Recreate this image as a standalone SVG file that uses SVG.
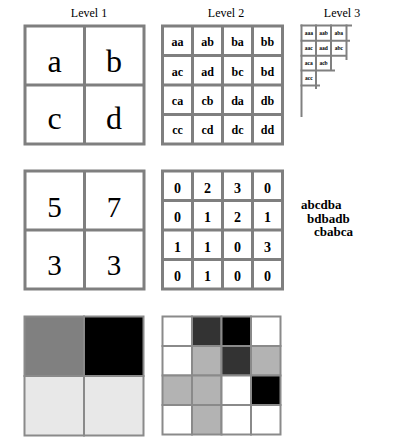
<svg xmlns="http://www.w3.org/2000/svg" width="404" height="443" viewBox="0 0 404 443">
<style>
.bg{fill:#ffffff}
.grid{fill:none;stroke:#7f7f7f;stroke-width:3}
.thin{fill:none;stroke:#808080;stroke-width:2}
.cell{stroke:#8a8a8a;stroke-width:2}
.lbl{font-family:"Liberation Serif",serif;font-size:12px;fill:#000;text-anchor:middle}
.big{font-family:"Liberation Serif",serif;font-size:32px;fill:#000;text-anchor:middle}
.bign{font-family:"Liberation Serif",serif;font-size:29px;fill:#000;text-anchor:middle}
.sm{font-family:"Liberation Serif",serif;font-size:12px;font-weight:bold;fill:#000;text-anchor:middle}
.num{font-family:"Liberation Serif",serif;font-size:14px;font-weight:bold;fill:#000;text-anchor:middle}
.tiny{font-family:"Liberation Serif",serif;font-size:5.5px;font-weight:bold;fill:#000;text-anchor:middle}
.seq{font-family:"Liberation Serif",serif;font-size:13px;font-weight:bold;fill:#000}
</style>
<rect class="bg" x="0" y="0" width="404" height="443"/>

<g id="level1-letters">
  <text class="lbl" x="89" y="17">Level 1</text>
  <rect class="grid" x="25" y="26" width="119" height="118"/>
  <line class="grid" x1="84.5" y1="26" x2="84.5" y2="144"/>
  <line class="grid" x1="25" y1="85" x2="144" y2="85"/>
  <text class="big" x="54.5" y="72">a</text>
  <text class="big" x="114" y="72">b</text>
  <text class="big" x="54.5" y="128.5">c</text>
  <text class="big" x="114" y="128.5">d</text>
</g>

<g id="level2-letters">
  <text class="lbl" x="226" y="17">Level 2</text>
  <rect class="grid" x="162.5" y="26" width="120" height="118"/>
  <line class="grid" x1="192.5" y1="26" x2="192.5" y2="144"/>
  <line class="grid" x1="222.5" y1="26" x2="222.5" y2="144"/>
  <line class="grid" x1="252.5" y1="26" x2="252.5" y2="144"/>
  <line class="grid" x1="162.5" y1="55.5" x2="282.5" y2="55.5"/>
  <line class="grid" x1="162.5" y1="85" x2="282.5" y2="85"/>
  <line class="grid" x1="162.5" y1="114.5" x2="282.5" y2="114.5"/>
  <text class="sm" x="177.5" y="46">aa</text>
  <text class="sm" x="207.5" y="46">ab</text>
  <text class="sm" x="237.5" y="46">ba</text>
  <text class="sm" x="267.5" y="46">bb</text>
  <text class="sm" x="177.5" y="75.5">ac</text>
  <text class="sm" x="207.5" y="75.5">ad</text>
  <text class="sm" x="237.5" y="75.5">bc</text>
  <text class="sm" x="267.5" y="75.5">bd</text>
  <text class="sm" x="177.5" y="105">ca</text>
  <text class="sm" x="207.5" y="105">cb</text>
  <text class="sm" x="237.5" y="105">da</text>
  <text class="sm" x="267.5" y="105">db</text>
  <text class="sm" x="177.5" y="134">cc</text>
  <text class="sm" x="207.5" y="134">cd</text>
  <text class="sm" x="237.5" y="134">dc</text>
  <text class="sm" x="267.5" y="134">dd</text>
</g>

<g id="level3-letters">
  <text class="lbl" x="342" y="17">Level 3</text>
  <line class="thin" x1="301.5" y1="24.5" x2="301.5" y2="117"/>
  <line class="thin" x1="316" y1="24.5" x2="316" y2="89"/>
  <line class="thin" x1="331" y1="24.5" x2="331" y2="70"/>
  <line class="thin" x1="346.5" y1="24.5" x2="346.5" y2="60"/>
  <line class="thin" x1="300.5" y1="25.5" x2="352" y2="25.5"/>
  <line class="thin" x1="300.5" y1="40.8" x2="350" y2="40.8"/>
  <line class="thin" x1="300.5" y1="55.7" x2="347" y2="55.7"/>
  <line class="thin" x1="300.5" y1="70.5" x2="335" y2="70.5"/>
  <line class="thin" x1="300.5" y1="85.5" x2="320" y2="85.5"/>
  <text class="tiny" x="308.8" y="35">aaa</text>
  <text class="tiny" x="323.5" y="35">aab</text>
  <text class="tiny" x="338.8" y="35">aba</text>
  <text class="tiny" x="308.8" y="50">aac</text>
  <text class="tiny" x="323.5" y="50">aad</text>
  <text class="tiny" x="338.8" y="50">abc</text>
  <text class="tiny" x="308.8" y="65">aca</text>
  <text class="tiny" x="323.5" y="65">acb</text>
  <text class="tiny" x="308.8" y="80">acc</text>
</g>

<g id="level1-numbers">
  <rect class="grid" x="25" y="171" width="119" height="118"/>
  <line class="grid" x1="84.5" y1="171" x2="84.5" y2="289"/>
  <line class="grid" x1="25" y1="230" x2="144" y2="230"/>
  <text class="bign" x="54.5" y="216.5">5</text>
  <text class="bign" x="114" y="216.5">7</text>
  <text class="bign" x="54.5" y="275">3</text>
  <text class="bign" x="114" y="275">3</text>
</g>

<g id="level2-numbers">
  <rect class="grid" x="162.5" y="171" width="120" height="118"/>
  <line class="grid" x1="192.5" y1="171" x2="192.5" y2="289"/>
  <line class="grid" x1="222.5" y1="171" x2="222.5" y2="289"/>
  <line class="grid" x1="252.5" y1="171" x2="252.5" y2="289"/>
  <line class="grid" x1="162.5" y1="200.5" x2="282.5" y2="200.5"/>
  <line class="grid" x1="162.5" y1="230" x2="282.5" y2="230"/>
  <line class="grid" x1="162.5" y1="259.5" x2="282.5" y2="259.5"/>
  <text class="num" x="177.5" y="192.5">0</text>
  <text class="num" x="207.5" y="192.5">2</text>
  <text class="num" x="237.5" y="192.5">3</text>
  <text class="num" x="267.5" y="192.5">0</text>
  <text class="num" x="177.5" y="222">0</text>
  <text class="num" x="207.5" y="222">1</text>
  <text class="num" x="237.5" y="222">2</text>
  <text class="num" x="267.5" y="222">1</text>
  <text class="num" x="177.5" y="251.5">1</text>
  <text class="num" x="207.5" y="251.5">1</text>
  <text class="num" x="237.5" y="251.5">0</text>
  <text class="num" x="267.5" y="251.5">3</text>
  <text class="num" x="177.5" y="281">0</text>
  <text class="num" x="207.5" y="281">1</text>
  <text class="num" x="237.5" y="281">0</text>
  <text class="num" x="267.5" y="281">0</text>
</g>

<g id="sequences">
  <text class="seq" x="301" y="209">abcdba</text>
  <text class="seq" x="307" y="222.5">bdbadb</text>
  <text class="seq" x="314" y="236">cbabca</text>
</g>

<g id="level1-shades">
  <rect class="cell" x="24.5" y="316.5" width="59.5" height="59.5" fill="#808080"/>
  <rect class="cell" x="84" y="316.5" width="59.5" height="59.5" fill="#000000"/>
  <rect class="cell" x="24.5" y="376" width="59.5" height="59.5" fill="#e8e8e8"/>
  <rect class="cell" x="84" y="376" width="59.5" height="59.5" fill="#e8e8e8"/>
</g>

<g id="level2-shades">
  <rect class="cell" x="162.5" y="316.5" width="29.5" height="29.5" fill="#ffffff"/>
  <rect class="cell" x="192" y="316.5" width="29.5" height="29.5" fill="#333333"/>
  <rect class="cell" x="221.5" y="316.5" width="29.5" height="29.5" fill="#000000"/>
  <rect class="cell" x="251" y="316.5" width="29.5" height="29.5" fill="#ffffff"/>
  <rect class="cell" x="162.5" y="346" width="29.5" height="29.5" fill="#ffffff"/>
  <rect class="cell" x="192" y="346" width="29.5" height="29.5" fill="#b3b3b3"/>
  <rect class="cell" x="221.5" y="346" width="29.5" height="29.5" fill="#333333"/>
  <rect class="cell" x="251" y="346" width="29.5" height="29.5" fill="#b3b3b3"/>
  <rect class="cell" x="162.5" y="375.5" width="29.5" height="29.5" fill="#b3b3b3"/>
  <rect class="cell" x="192" y="375.5" width="29.5" height="29.5" fill="#b3b3b3"/>
  <rect class="cell" x="221.5" y="375.5" width="29.5" height="29.5" fill="#ffffff"/>
  <rect class="cell" x="251" y="375.5" width="29.5" height="29.5" fill="#000000"/>
  <rect class="cell" x="162.5" y="405" width="29.5" height="29.5" fill="#ffffff"/>
  <rect class="cell" x="192" y="405" width="29.5" height="29.5" fill="#b3b3b3"/>
  <rect class="cell" x="221.5" y="405" width="29.5" height="29.5" fill="#ffffff"/>
  <rect class="cell" x="251" y="405" width="29.5" height="29.5" fill="#ffffff"/>
</g>

<g id="connectors"/>
</svg>
